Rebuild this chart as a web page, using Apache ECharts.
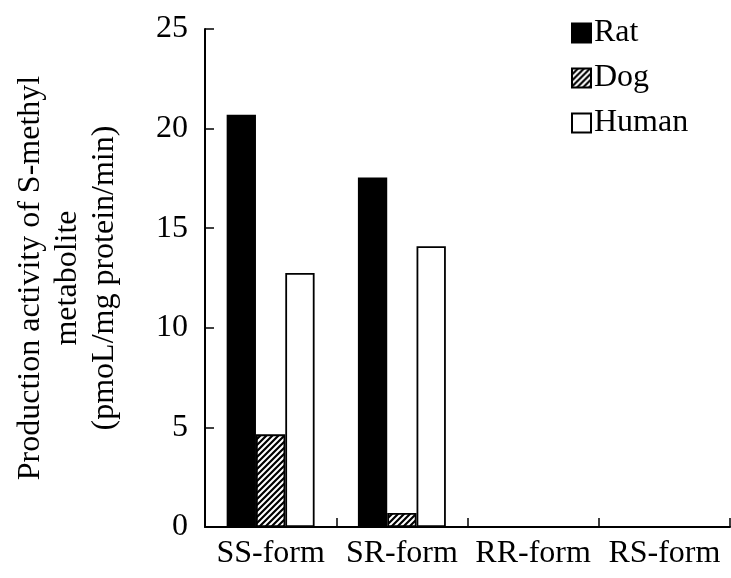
<!DOCTYPE html>
<html>
<head>
<meta charset="utf-8">
<script src="https://cdn.jsdelivr.net/npm/echarts@6/dist/echarts.min.js"></script>
<style>html,body{margin:0;padding:0;background:#fff}#c{width:731px;height:578px}</style>
</head>
<body>
<div id="c"></div>
<script>
var categories = ['SS-form', 'SR-form', 'RR-form', 'RS-form'];
var ratValues = [20.7, 17.55, 0, 0];
var dogValues = [4.65, 0.7, 0, 0];
var humanValues = [12.75, 14.1, 0, 0];
var yTicks = [0, 5, 10, 15, 20, 25];

function hatch() {
  var c = document.createElement('canvas');
  c.width = 6; c.height = 6;
  var g = c.getContext('2d');
  g.fillStyle = '#fff';
  g.fillRect(0, 0, 6, 6);
  g.strokeStyle = '#000';
  g.lineWidth = 2.2;
  g.beginPath();
  g.moveTo(-1, 7); g.lineTo(7, -1);
  g.moveTo(-4, 4); g.lineTo(4, -4);
  g.moveTo(2, 10); g.lineTo(10, 2);
  g.stroke();
  return c;
}

var font = "'Liberation Serif', 'Times New Roman', serif";
var chart = echarts.init(document.getElementById('c'), null, {renderer: 'canvas'});
var barStyle = function (fill) {
  return {color: fill, borderColor: '#000', borderWidth: 1.8};
};
chart.setOption({
  animation: false,
  backgroundColor: '#fff',
  textStyle: {fontFamily: font, color: '#000'},
  grid: {left: 205, right: 1, top: 29, bottom: 51, containLabel: false},
  legend: {
    orient: 'vertical', left: 571, top: 17, padding: 0,
    itemWidth: 19, itemHeight: 19, itemGap: 13,
    icon: 'rect',
    textStyle: {fontFamily: font, fontSize: 32, color: '#000', padding: [0, 0, 0, -2]},
    data: ['Rat', 'Dog', 'Human']
  },
  xAxis: {
    type: 'category', data: categories,
    axisLine: {lineStyle: {color: '#000', width: 2}},
    axisTick: {show: true, interval: 0, inside: true, length: 9, lineStyle: {color: '#000', width: 1.5}},
    axisLabel: {interval: 0, fontFamily: font, fontSize: 32, color: '#000', margin: 11}
  },
  yAxis: {
    type: 'value', min: yTicks[0], max: yTicks[yTicks.length - 1], interval: 5,
    name: 'Production activity of S-methyl\nmetabolite\n(pmoL/mg protein/min)',
    nameLocation: 'middle', nameRotate: 90, nameGap: 82,
    nameTextStyle: {fontFamily: font, fontSize: 32, color: '#000', lineHeight: 37, align: 'center'},
    splitLine: {show: false},
    axisLine: {show: true, lineStyle: {color: '#000', width: 2}},
    axisTick: {show: true, inside: true, length: 9, lineStyle: {color: '#000', width: 1.5}},
    axisLabel: {fontFamily: font, fontSize: 32, color: '#000', margin: 17}
  },
  series: [
    {name: 'Rat', type: 'bar', data: ratValues, barGap: '0%', barCategoryGap: '33%', itemStyle: barStyle('#000')},
    {name: 'Dog', type: 'bar', data: dogValues, itemStyle: barStyle({image: hatch(), repeat: 'repeat'})},
    {name: 'Human', type: 'bar', data: humanValues, itemStyle: barStyle('#fff')}
  ]
});
</script>
</body>
</html>
